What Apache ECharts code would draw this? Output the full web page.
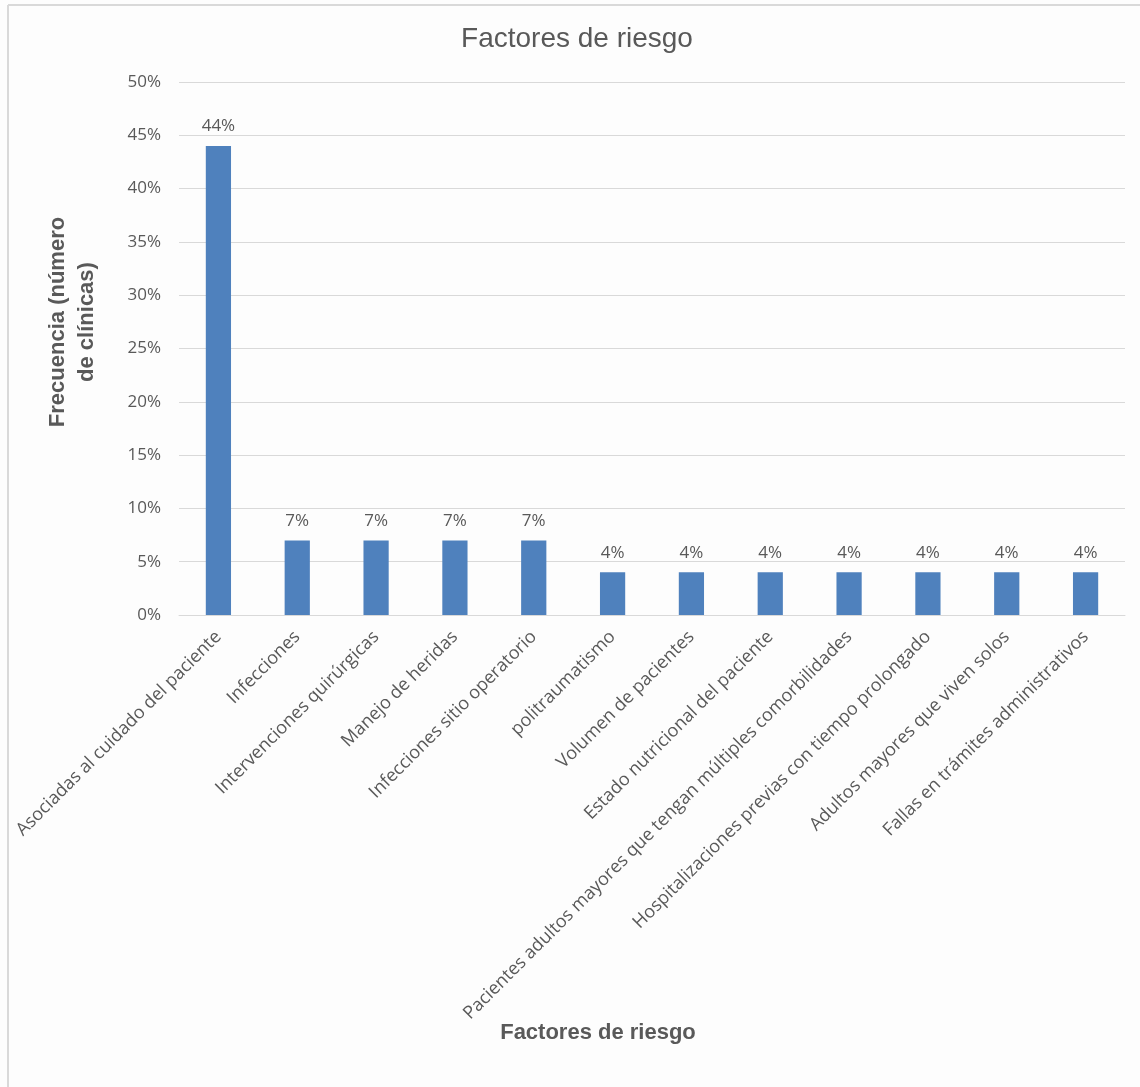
<!DOCTYPE html>
<html>
<head>
<meta charset="utf-8">
<script src="https://cdn.jsdelivr.net/npm/echarts@6/dist/echarts.min.js"></script>
<style>
  html, body { margin: 0; padding: 0; background: #fdfdfd; }
  #chart { width: 1140px; height: 1087px; }
</style>
</head>
<body>
<div id="chart"></div>
<script>
// datos
var categorias = [
    'Asociadas al cuidado del paciente',
    'Infecciones',
    'Intervenciones quirúrgicas',
    'Manejo de heridas',
    'Infecciones sitio operatorio',
    'politraumatismo',
    'Volumen de pacientes',
    'Estado nutricional del paciente',
    'Pacientes adultos mayores que tengan múltiples comorbilidades',
    'Hospitalizaciones previas con tiempo prolongado',
    'Adultos mayores que viven solos',
    'Fallas en trámites administrativos'
];
var frecuencia = [44, 7, 7, 7, 7, 4, 4, 4, 4, 4, 4, 4];

var titulo = 'Factores de riesgo';
var nombreEjeX = 'Factores de riesgo';
var nombreEjeY = 'Frecuencia (número\nde clínicas)';

function drawChart() {
    var dom = document.getElementById('chart');
    var myChart = echarts.init(dom);
    var gris = '#595959';
    var fuente = '"Open Sans", "Noto Sans", sans-serif';

    var option = {
        backgroundColor: '#fdfdfd',
        animation: false,
        title: {
            text: titulo,
            left: 572,
            top: 20,
            textAlign: 'center',
            textStyle: {
                color: gris,
                fontFamily: '"Liberation Sans", Arial, sans-serif',
                fontWeight: 'normal',
                fontSize: 28
            }
        },
        grid: {
            left: 179,
            right: 15,
            top: 82,
            bottom: 472
        },
        xAxis: {
            type: 'category',
            data: categorias,
            axisLine: { lineStyle: { color: '#d9d9d9', width: 1 } },
            axisTick: { show: false },
            axisLabel: {
                rotate: 45,
                interval: 0,
                margin: 19,
                color: gris,
                fontFamily: fuente,
                fontSize: 18
            }
        },
        yAxis: {
            type: 'value',
            min: 0,
            max: 50,
            interval: 5,
            axisLine: { show: false },
            axisTick: { show: false },
            splitLine: { lineStyle: { color: '#d9d9d9', width: 1 } },
            axisLabel: {
                formatter: '{value}%',
                margin: 18,
                color: gris,
                fontFamily: fuente,
                fontSize: 17
            }
        },
        graphic: [
            {
                type: 'line',
                shape: { x1: 8, y1: 5, x2: 1140, y2: 5 },
                style: { stroke: '#d9d9d9', lineWidth: 2 }
            },
            {
                type: 'line',
                shape: { x1: 8, y1: 5, x2: 8, y2: 1087 },
                style: { stroke: '#d9d9d9', lineWidth: 2 }
            },
            {
                type: 'text',
                x: 72,
                y: 322,
                rotation: Math.PI / 2,
                style: {
                    text: nombreEjeY,
                    fill: gris,
                    font: 'bold 22px "Liberation Sans", Arial, sans-serif',
                    align: 'center',
                    verticalAlign: 'middle',
                    lineHeight: 29
                }
            },
            {
                type: 'text',
                x: 598,
                y: 1033,
                style: {
                    text: nombreEjeX,
                    fill: gris,
                    font: 'bold 22px "Liberation Sans", Arial, sans-serif',
                    align: 'center',
                    verticalAlign: 'middle'
                }
            }
        ],
        series: [
            {
                name: 'Frecuencia',
                type: 'bar',
                data: frecuencia,
                barWidth: '32%',
                itemStyle: { color: '#4f81bd' },
                label: {
                    show: true,
                    position: 'top',
                    distance: 11,
                    formatter: '{c}%',
                    color: gris,
                    fontFamily: fuente,
                    fontSize: 17
                }
            }
        ]
    };
    if (option && typeof option === "object") {
        myChart.setOption(option, true);
    }
}
drawChart();
</script>
</body>
</html>
